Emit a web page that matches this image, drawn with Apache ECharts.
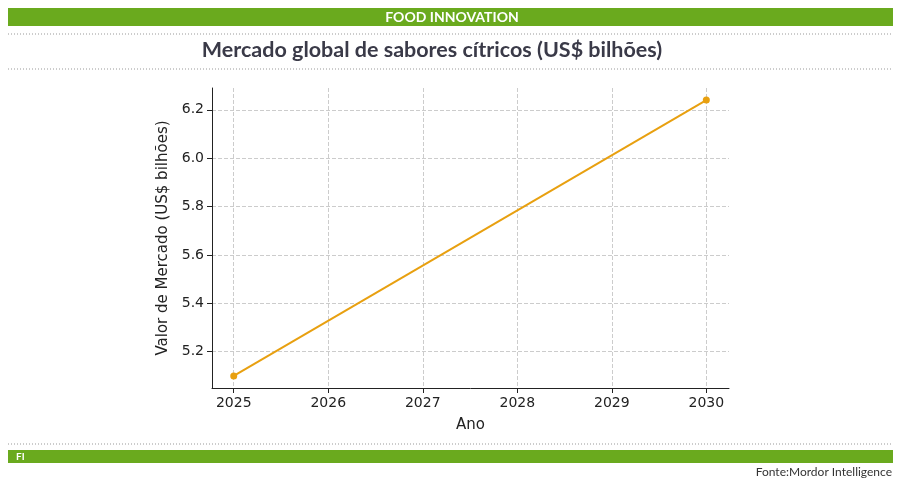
<!DOCTYPE html>
<html><head><meta charset="utf-8">
<script src="https://cdn.jsdelivr.net/npm/echarts@6/dist/echarts.min.js"></script>
<style>html,body{margin:0;padding:0;background:#fff}#c{width:900px;height:485px}</style>
</head><body><div id="c"></div>
<script>
// dados
let years = [2025, 2030];
let values = [5.1, 6.24];
let xTicks = [2025, 2026, 2027, 2028, 2029, 2030];
let yTicks = [5.2, 5.4, 5.6, 5.8, 6.0, 6.2];

let chart = echarts.init(document.getElementById('c'));
let green = '#6aaa1e';
let dotted = function(y){
  return {type:'line', shape:{x1:8,y1:y,x2:893,y2:y}, style:{stroke:'#999',lineWidth:1,lineDash:[1,2]}};
}
chart.setOption({
  animation:false,
  textStyle:{fontFamily:'DejaVu Sans'},
  graphic:[
    {type:'rect', shape:{x:8,y:8,width:885,height:18}, style:{fill:green}},
    {type:'text', x:452, y:17, style:{text:'FOOD INNOVATION', fill:'#fff', font:'bold 14px Lato', align:'center', verticalAlign:'middle'}},
    dotted(34),
    {type:'text', x:432, y:50, style:{text:'Mercado global de sabores cítricos (US$ bilhões)', fill:'#3a3a48', font:'bold 21.5px Lato', align:'center', verticalAlign:'middle'}},
    dotted(69),
    dotted(444),
    {type:'rect', shape:{x:8,y:450,width:885,height:13}, style:{fill:green}},
    {type:'text', x:16, y:457, style:{text:'FI', fill:'#fff', font:'bold 10px Lato', verticalAlign:'middle'}},
    {type:'text', x:892, y:472, style:{text:'Fonte:Mordor Intelligence', fill:'#333', font:'12px Lato', align:'right', verticalAlign:'middle'}}
  ],
  grid:{left:212, right:171, top:88, bottom:97},
  xAxis:{
    type:'value', min:2024.77, max:2030.24, name:'Ano', nameLocation:'middle', nameGap:30,
    nameTextStyle:{fontSize:15, color:'#222'},
    axisLine:{lineStyle:{color:'#222'}},
    axisTick:{customValues:xTicks, lineStyle:{color:'#222'}},
    axisLabel:{customValues:xTicks, fontSize:14, color:'#222', formatter:v=>String(v)},
    splitLine:{show:true, lineStyle:{color:'#ccc', type:'dashed'}}
  },
  yAxis:{
    type:'value', min:5.05, max:6.29, name:'Valor de Mercado (US$ bilhões)', nameLocation:'middle', nameGap:40,
    nameTextStyle:{fontSize:15, color:'#222'},
    axisLine:{show:true, lineStyle:{color:'#222'}},
    axisTick:{show:true, customValues:yTicks, lineStyle:{color:'#222'}},
    axisLabel:{customValues:yTicks, fontSize:14, color:'#222', formatter:v=>v.toFixed(1)},
    splitLine:{show:true, lineStyle:{color:'#ccc', type:'dashed'}}
  },
  series:[{
    type:'line', data:years.map((y,i)=>[y,values[i]]),
    symbol:'circle', symbolSize:7,
    lineStyle:{color:'#e8a010', width:2}, itemStyle:{color:'#e8a010'}
  }]
});
</script></body></html>
